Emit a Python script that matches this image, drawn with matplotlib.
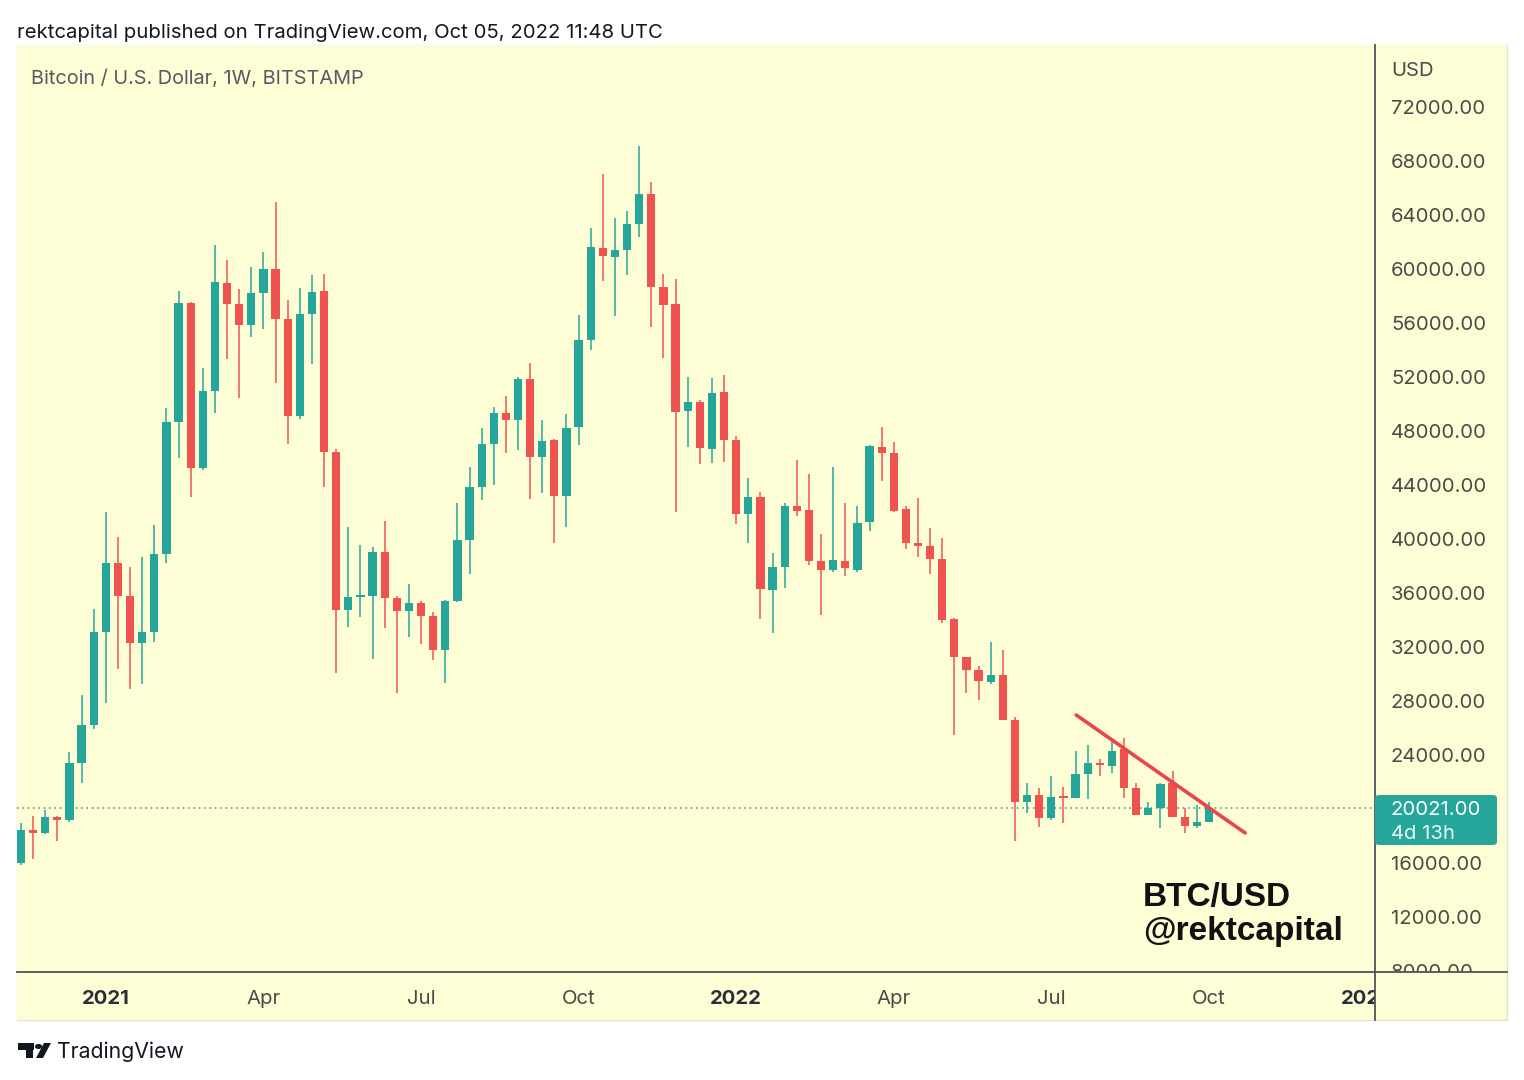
import matplotlib
matplotlib.use("Agg")
import matplotlib.pyplot as plt
import matplotlib.transforms as mtransforms
from matplotlib.patches import Rectangle, FancyBboxPatch, Polygon, Circle
from matplotlib.lines import Line2D
import pandas as pd

# %% weekly BTC/USD candles (Bitstamp)
weeks = pd.date_range("2020-11-16", periods=99, freq="7D")
opens = [15930, 18370, 18150, 19300, 19110, 23330, 26150, 33040, 38150, 35700,
         32220, 33040, 38810, 48590, 57410, 45190, 50890, 58890, 57330, 55780,
         58150, 59930, 56220, 49040, 56590, 58300, 46370, 34670, 35630, 35700,
         38960, 35560, 34590, 35190, 34220, 31700, 35330, 39850, 43780, 46960,
         49260, 48740, 51780, 46000, 47260, 43110, 48220, 54670, 61480, 60810,
         61330, 63260, 65480, 58590, 57330, 49410, 50070, 46590, 50810, 47260,
         41780, 43040, 36150, 37850, 42370, 42070, 38300, 37630, 38300, 37630,
         41190, 46740, 46300, 42150, 39630, 39410, 38440, 34000, 31190, 30220,
         29330, 29850, 26520, 20440, 20960, 19260, 20810, 20740, 22520, 23330,
         23110, 24370, 21480, 19480, 20000, 21850, 19330, 18670, 18960]
highs = [18890, 19410, 19850, 19410, 24150, 28370, 34740, 41930, 40070, 37850,
         38590, 40960, 49630, 58300, 57480, 52590, 61700, 60590, 58440, 60070,
         61190, 64890, 57630, 58520, 59480, 59560, 46590, 40810, 39480, 39330,
         41260, 35700, 36590, 35300, 34520, 35400, 42590, 45260, 48150, 49700,
         50520, 51900, 52960, 48740, 47350, 49190, 56520, 62960, 66960, 63700,
         64220, 69040, 66370, 59560, 59190, 51930, 50200, 51850, 52070, 47560,
         44440, 43410, 38890, 42590, 45780, 44740, 40300, 45260, 42590, 42370,
         46890, 48220, 47110, 42370, 42960, 40740, 40000, 34070, 31190, 30520,
         32300, 31700, 26740, 21850, 21480, 22370, 21560, 24220, 24670, 23630,
         24890, 25190, 21850, 20470, 21850, 22740, 20000, 20220, 20440]
lows = [15800, 16220, 18070, 17560, 18980, 21850, 25850, 27780, 30300, 28810,
        29180, 32300, 38150, 45930, 43040, 45040, 49260, 53260, 50370, 54890,
        55480, 51480, 46960, 48810, 52890, 43780, 30000, 33400, 34150, 31040,
        33330, 28520, 32670, 32150, 30960, 29260, 35260, 37330, 42810, 43930,
        46300, 46520, 42890, 43330, 39630, 40810, 46890, 53930, 59040, 56440,
        59480, 62300, 55630, 53330, 41930, 46740, 45480, 45560, 45630, 41040,
        39630, 34000, 32960, 36300, 41630, 38000, 34300, 37480, 37190, 37480,
        40520, 44220, 41930, 39190, 38590, 37330, 33700, 25410, 28520, 28000,
        29190, 26520, 17560, 19630, 18590, 19110, 18890, 20740, 20670, 22370,
        22590, 20740, 19480, 19480, 18520, 19330, 18150, 18520, 18960]
closes = [18370, 18150, 19330, 19110, 23330, 26150, 33040, 38150, 35700, 32220,
          33040, 38810, 48590, 57410, 45190, 50890, 58960, 57330, 55780, 58150,
          59930, 56220, 49040, 56590, 58220, 46370, 34670, 35630, 35780, 38960,
          35560, 34590, 35190, 34220, 31700, 35330, 39850, 43780, 46960, 49260,
          48740, 51780, 46000, 47190, 43110, 48150, 54670, 61560, 60890, 61330,
          63260, 65480, 58590, 57260, 49330, 50070, 46670, 50740, 47260, 41780,
          43040, 36220, 37850, 42370, 42000, 38300, 37630, 38370, 37780, 41110,
          46810, 46300, 42000, 39630, 39410, 38440, 33930, 31190, 30220, 29410,
          29850, 26520, 20440, 20960, 19260, 20810, 20740, 22520, 23330, 23190,
          24220, 21480, 19480, 19980, 21780, 19330, 18670, 18960, 20021]

last_price = 20021
countdown = "4d 13h"
price_ticks = list(range(8000, 76000, 4000))
trend_x = [87.05, 100.99]
trend_y = [26890, 18150]

# time-axis labels: first weekly bar of each quarter
all_weeks = pd.date_range("2020-11-16", periods=115, freq="7D")
time_ticks = []
for i, d in enumerate(all_weeks):
    if d.month in (1, 4, 7, 10) and d.day <= 7:
        lab = str(d.year) if d.month == 1 else d.strftime("%b")
        time_ticks.append((i, lab, d.month == 1))

# %% style
BG = "#fdfdd6"
UP = "#26a69a"
DOWN = "#ef5350"
TXT = "#4a4a4a"
W, H = 1524, 1080
FS = 14.6
plt.rcParams["font.family"] = ["Inter", "DejaVu Sans"]


def fx(px):
    return px / W


def fy(py):
    return 1 - py / H


fig = plt.figure(figsize=(W / 100, H / 100), dpi=100, facecolor="white")

# panel background and border
fig.add_artist(Rectangle((fx(17), fy(1020)), fx(1507) - fx(17), fy(45) - fy(1020),
                         transform=fig.transFigure, facecolor=BG,
                         edgecolor="#e3e3cc", lw=1, zorder=0))

xlim = (-0.33, 111.7)
ylim = (7852, 76519)

ax = fig.add_axes([fx(17), fy(972), fx(1375) - fx(17), fy(45) - fy(972)])
ax.set_facecolor(BG)
ax.set_xlim(*xlim)
ax.set_ylim(*ylim)
for s in ax.spines.values():
    s.set_visible(False)
ax.set_xticks([])
ax.set_yticks([])

colors = [UP if c >= o else DOWN for o, c in zip(opens, closes)]
xs = list(range(len(weeks)))
ax.vlines(xs, lows, highs, colors=colors, lw=1.1, zorder=2)
bottoms = [min(o, c) for o, c in zip(opens, closes)]
heights = [max(abs(c - o), 140) for o, c in zip(opens, closes)]
ax.bar(xs, heights, bottom=bottoms, width=0.68, color=colors, linewidth=0, zorder=3)

ax.axhline(last_price, color="#3d8f86", lw=1.1, ls=(0, (1, 2.5)), zorder=1)
ax.plot(trend_x, trend_y, color="#e8474a", lw=2.6, solid_capstyle="round", zorder=4)

fig.text(fx(31), fy(78.5), "Bitcoin / U.S. Dollar, 1W, BITSTAMP",
         fontsize=14.3, color="#555a63", va="center")

fig.text(fx(1143), fy(906), "BTC/USD", fontsize=24, fontweight="bold",
         family="Liberation Sans", color="#111111")
fig.text(fx(1143), fy(940), "@rektcapital", fontsize=24, fontweight="bold",
         family="Liberation Sans", color="#111111")

# price scale
pax = fig.add_axes([fx(1375), fy(972), fx(1507) - fx(1375), fy(45) - fy(972)])
pax.set_facecolor(BG)
pax.set_ylim(*ylim)
pax.set_xlim(0, 1)
for s in pax.spines.values():
    s.set_visible(False)
pax.set_xticks([])
pax.set_yticks([])
ptrans = mtransforms.blended_transform_factory(pax.transAxes, pax.transData)
px_per_usd = (972 - 45) / (ylim[1] - ylim[0])
for p in price_ticks:
    if abs(p - last_price) < 2500:  # hidden under the price tag
        continue
    pax.text(16 / 132, p - 2.5 / px_per_usd, f"{p}.00", transform=ptrans, fontsize=FS,
             color=TXT, va="center", ha="left", clip_on=True)
pax.text(16 / 132, 74815 - 2.5 / px_per_usd, "USD", transform=ptrans, fontsize=FS,
         color=TXT, va="center", ha="left")

tag = FancyBboxPatch((fx(1375), fy(845)), fx(1497) - fx(1375), fy(795) - fy(845),
                     boxstyle="round,pad=0,rounding_size=0.003",
                     transform=fig.transFigure, facecolor=UP, edgecolor="none", zorder=5)
fig.add_artist(tag)
fig.text(fx(1391), fy(810), f"{last_price}.00", fontsize=FS, color="white",
         va="center", ha="left", zorder=6)
fig.text(fx(1391), fy(834), countdown, fontsize=FS, color="#e6f5f3",
         va="center", ha="left", zorder=6)

# time scale
tax = fig.add_axes([fx(17), fy(1020), fx(1375) - fx(17), fy(972) - fy(1020)])
tax.set_facecolor(BG)
tax.set_xlim(*xlim)
tax.set_ylim(0, 1)
for s in tax.spines.values():
    s.set_visible(False)
tax.set_xticks([])
tax.set_yticks([])
for i, lab, bold in time_ticks:
    tax.text(i, 0.43, lab, fontsize=FS, ha="center", va="center",
             fontweight="bold" if bold else "normal",
             color="#2a2e39" if bold else TXT, clip_on=True)

# separators
fig.add_artist(Line2D([fx(1375), fx(1375)], [fy(45), fy(1020)],
                      transform=fig.transFigure, color="#50535e", lw=1.3))
fig.add_artist(Line2D([fx(17), fx(1507)], [fy(972), fy(972)],
                      transform=fig.transFigure, color="#50535e", lw=1.3))

# header and footer
fig.text(fx(17), fy(32.5), "rektcapital published on TradingView.com, Oct 05, 2022 11:48 UTC",
         fontsize=14.6, color="#131722", va="center", ha="left")

logo = "#131722"
fig.add_artist(Rectangle((fx(18), fy(1050)), fx(34) - fx(18), fy(1043) - fy(1050),
                         transform=fig.transFigure, facecolor=logo, edgecolor="none"))
fig.add_artist(Rectangle((fx(26), fy(1058)), fx(33) - fx(26), fy(1043) - fy(1058),
                         transform=fig.transFigure, facecolor=logo, edgecolor="none"))
fig.add_artist(Circle((fx(38.5), fy(1046.5)), fx(3.6), transform=fig.transFigure,
                      facecolor=logo, edgecolor="none"))
fig.add_artist(Polygon([(fx(36), fy(1058)), (fx(44), fy(1043)), (fx(51), fy(1043)),
                        (fx(43), fy(1058))], transform=fig.transFigure,
                       facecolor=logo, edgecolor="none"))
fig.text(fx(57), fy(1052), "TradingView", fontsize=15.3, color="#131722",
         va="center", ha="left")

fig.savefig("out.png", dpi=100, facecolor="white")
